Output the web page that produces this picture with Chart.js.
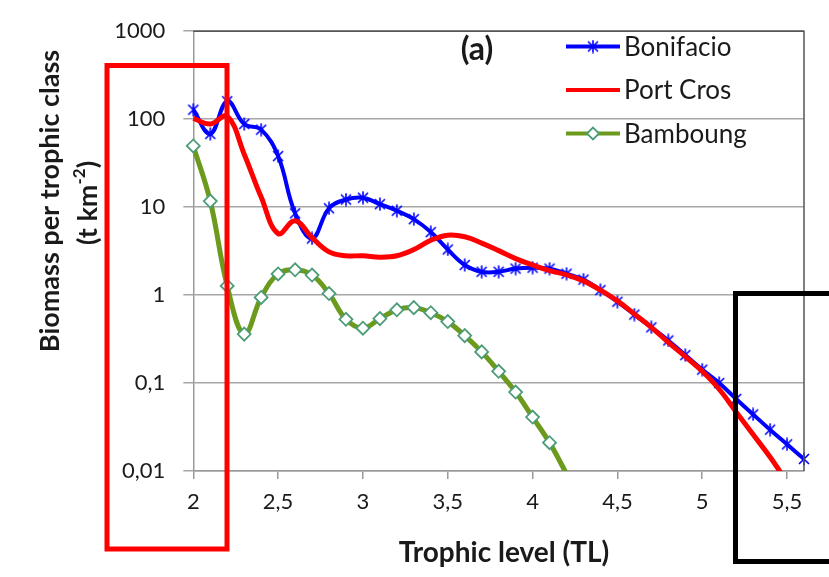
<!DOCTYPE html>
<html>
<head>
<meta charset="utf-8">
<script src="https://cdn.jsdelivr.net/npm/chart.js@4/dist/chart.umd.min.js"></script>
<style>
  body { margin: 0; background: #fff; }
  #wrap { width: 829px; height: 577px; }
</style>
</head>
<body>
<div id="wrap"><canvas id="chart" width="829" height="577"></canvas></div>
<script>
// trophic levels (TL) and biomass per class, t/km2
const trophicLevels = [2.0, 2.1, 2.2, 2.3, 2.4, 2.5, 2.6, 2.7, 2.8, 2.9, 3.0, 3.1, 3.2, 3.3, 3.4, 3.5, 3.6, 3.7, 3.8, 3.9,
  4.0, 4.1, 4.2, 4.3, 4.4, 4.5, 4.6, 4.7, 4.8, 4.9, 5.0, 5.1, 5.2, 5.3, 5.4, 5.5, 5.6];
const bonifacio = [128, 68, 160, 88, 76, 38, 8.5, 4.4, 9.7, 12.2, 12.8, 10.8, 9.1, 7.3, 5.2, 3.3, 2.2, 1.84, 1.84, 2.0,
  2.05, 2.0, 1.75, 1.5, 1.14, 0.84, 0.6, 0.43, 0.305, 0.208, 0.142, 0.1, 0.066, 0.044, 0.0295, 0.0201, 0.0137];
const portCros = [102, 88, 108, 40, 13, 5.0, 7.0, 4.5, 3.1, 2.8, 2.8, 2.7, 2.8, 3.3, 4.2, 4.8, 4.6, 3.9, 3.2, 2.6,
  2.2, 1.9, 1.7, 1.45, 1.14, 0.86, 0.61, 0.43, 0.29, 0.2, 0.136, 0.085, 0.047, 0.026, 0.0144, 0.0075];
const bamboung = [49.6, 11.7, 1.27, 0.36, 0.94, 1.74, 1.94, 1.69, 1.04, 0.53, 0.42, 0.54, 0.68, 0.72, 0.63, 0.50, 0.346,
  0.226, 0.136, 0.079, 0.041, 0.021, 0.0093];

const xTicks = [2, 2.5, 3, 3.5, 4, 4.5, 5, 5.5];
const xTickLabels = ['2', '2,5', '3', '3,5', '4', '4,5', '5', '5,5'];
const yTicks = [0.01, 0.1, 1, 10, 100, 1000];
const yTickLabels = ['0,01', '0,1', '1', '10', '100', '1000'];

const seriesNames = ['Bonifacio', 'Port Cros', 'Bamboung'];
const BLUE = '#0000ff', RED = '#ff0000', GREEN = '#6b9a1c', DIAMOND = '#4c9c78';
const FONT = 'Lato, "Open Sans", sans-serif';
const TXT = '#1a1a1a';

// asterisk marker: X plus vertical bar
function makeStar(color) {
  const c = document.createElement('canvas');
  c.width = 14; c.height = 14;
  const g = c.getContext('2d');
  g.strokeStyle = color; g.lineWidth = 1.6;
  g.beginPath();
  g.moveTo(2, 2); g.lineTo(12, 12);
  g.moveTo(12, 2); g.lineTo(2, 12);
  g.moveTo(7, 0.5); g.lineTo(7, 13.5);
  g.stroke();
  return c;
}
const starImg = makeStar(BLUE);

const toPoints = (ys) => ys.map((y, i) => ({ x: trophicLevels[i], y }));

const overlay = {
  id: 'overlay',
  afterDraw(chart) {
    const ctx = chart.ctx, a = chart.chartArea;
    ctx.save();

    // plot frame, top and right
    ctx.strokeStyle = '#555';
    ctx.lineWidth = 1.5;
    ctx.beginPath();
    ctx.moveTo(a.left, a.top); ctx.lineTo(a.right, a.top); ctx.lineTo(a.right, a.bottom);
    ctx.stroke();

    // legend
    const rows = [46.5, 90, 133.5];
    rows.forEach((y, i) => {
      const ds = chart.data.datasets[i];
      ctx.strokeStyle = ds.borderColor;
      ctx.lineWidth = 4;
      ctx.beginPath(); ctx.moveTo(566, y); ctx.lineTo(620, y); ctx.stroke();
      if (i === 0) ctx.drawImage(starImg, 593 - 7, y - 7);
      if (i === 2) {
        ctx.fillStyle = '#fff'; ctx.strokeStyle = DIAMOND; ctx.lineWidth = 1.8;
        ctx.beginPath();
        ctx.moveTo(593 - 6, y); ctx.lineTo(593, y - 6); ctx.lineTo(593 + 6, y); ctx.lineTo(593, y + 6);
        ctx.closePath(); ctx.fill(); ctx.stroke();
      }
      ctx.fillStyle = TXT;
      ctx.font = '26px ' + FONT;
      ctx.textAlign = 'left'; ctx.textBaseline = 'middle';
      ctx.fillText(seriesNames[i], 624, y + 1);
    });

    // panel tag
    ctx.font = 'bold 32px ' + FONT;
    ctx.textAlign = 'center';
    ctx.fillText('(a)', 477, 50);

    // axis titles
    ctx.font = 'bold 28px ' + FONT;
    ctx.fillText('Trophic level (TL)', 504, 553);

    ctx.font = 'bold 27px ' + FONT;
    ctx.save();
    ctx.translate(50, 201);
    ctx.rotate(-Math.PI / 2);
    ctx.fillText('Biomass per trophic class', 0, 0);
    ctx.restore();

    ctx.save();
    ctx.translate(88, 203);
    ctx.rotate(-Math.PI / 2);
    const big = 'bold 27px ' + FONT, small = 'bold 17px ' + FONT;
    ctx.font = big;
    const w1 = ctx.measureText('(t km').width, w3 = ctx.measureText(')').width;
    ctx.font = small;
    const w2 = ctx.measureText('-2').width;
    let x0 = -(w1 + w2 + w3) / 2;
    ctx.textAlign = 'left';
    ctx.font = big; ctx.fillText('(t km', x0, 0);
    ctx.font = small; ctx.fillText('-2', x0 + w1, -8);
    ctx.font = big; ctx.fillText(')', x0 + w1 + w2, 0);
    ctx.restore();

    // highlight boxes
    ctx.lineWidth = 5;
    ctx.strokeStyle = RED;
    ctx.strokeRect(107, 65.5, 120, 483.5);
    ctx.strokeStyle = '#000';
    ctx.strokeRect(735.5, 293.5, 110, 268);

    ctx.restore();
  }
};

const clipBox = { left: 12, right: 12, top: 12, bottom: 0 };

new Chart(document.getElementById('chart'), {
  type: 'line',
  data: {
    datasets: [
      {
        label: seriesNames[0], data: toPoints(bonifacio), order: 3,
        borderColor: BLUE, borderWidth: 4, tension: 0.4,
        pointStyle: starImg, pointRadius: 7, clip: clipBox
      },
      {
        label: seriesNames[1], data: toPoints(portCros), order: 2,
        borderColor: RED, borderWidth: 5, tension: 0.4,
        pointRadius: 0, clip: clipBox
      },
      {
        label: seriesNames[2], data: toPoints(bamboung), order: 1,
        borderColor: GREEN, borderWidth: 5, tension: 0.4,
        pointStyle: 'rectRot', backgroundColor: '#fff',
        pointBorderColor: DIAMOND, pointBorderWidth: 1.8,
        pointRadius: (c) => (c.raw && c.raw.y < 0.01 ? 0 : 6.5), clip: clipBox
      }
    ]
  },
  options: {
    responsive: false,
    animation: false,
    layout: { padding: { left: 0, right: 25, top: 19, bottom: 0 } },
    plugins: { legend: { display: false }, tooltip: { enabled: false } },
    scales: {
      x: {
        type: 'linear', min: 2, max: 5.6,
        afterBuildTicks: (s) => { s.ticks = xTicks.map(v => ({ value: v })); },
        afterFit: (s) => { s.height = 106; },
        grid: { drawOnChartArea: false, drawTicks: true, tickLength: 8, color: '#9a9a9a', lineWidth: 1.5 },
        border: { color: '#9a9a9a', width: 1.5 },
        ticks: {
          autoSkip: false, maxRotation: 0, padding: 10, color: TXT,
          font: { family: FONT, size: 22 },
          callback: (v) => xTickLabels[xTicks.indexOf(v)]
        }
      },
      y: {
        type: 'logarithmic', min: 0.01, max: 1000,
        afterBuildTicks: (s) => { s.ticks = yTicks.map(v => ({ value: v })); },
        afterFit: (s) => { s.width = 193.3; },
        grid: { color: '#a6a6a6', lineWidth: 1.5, tickLength: 10 },
        border: { color: '#9a9a9a', width: 1.5 },
        ticks: {
          padding: 18, color: TXT,
          font: { family: FONT, size: 22 },
          callback: (v) => yTickLabels[yTicks.indexOf(v)]
        }
      }
    }
  },
  plugins: [overlay]
});
</script>
</body>
</html>
